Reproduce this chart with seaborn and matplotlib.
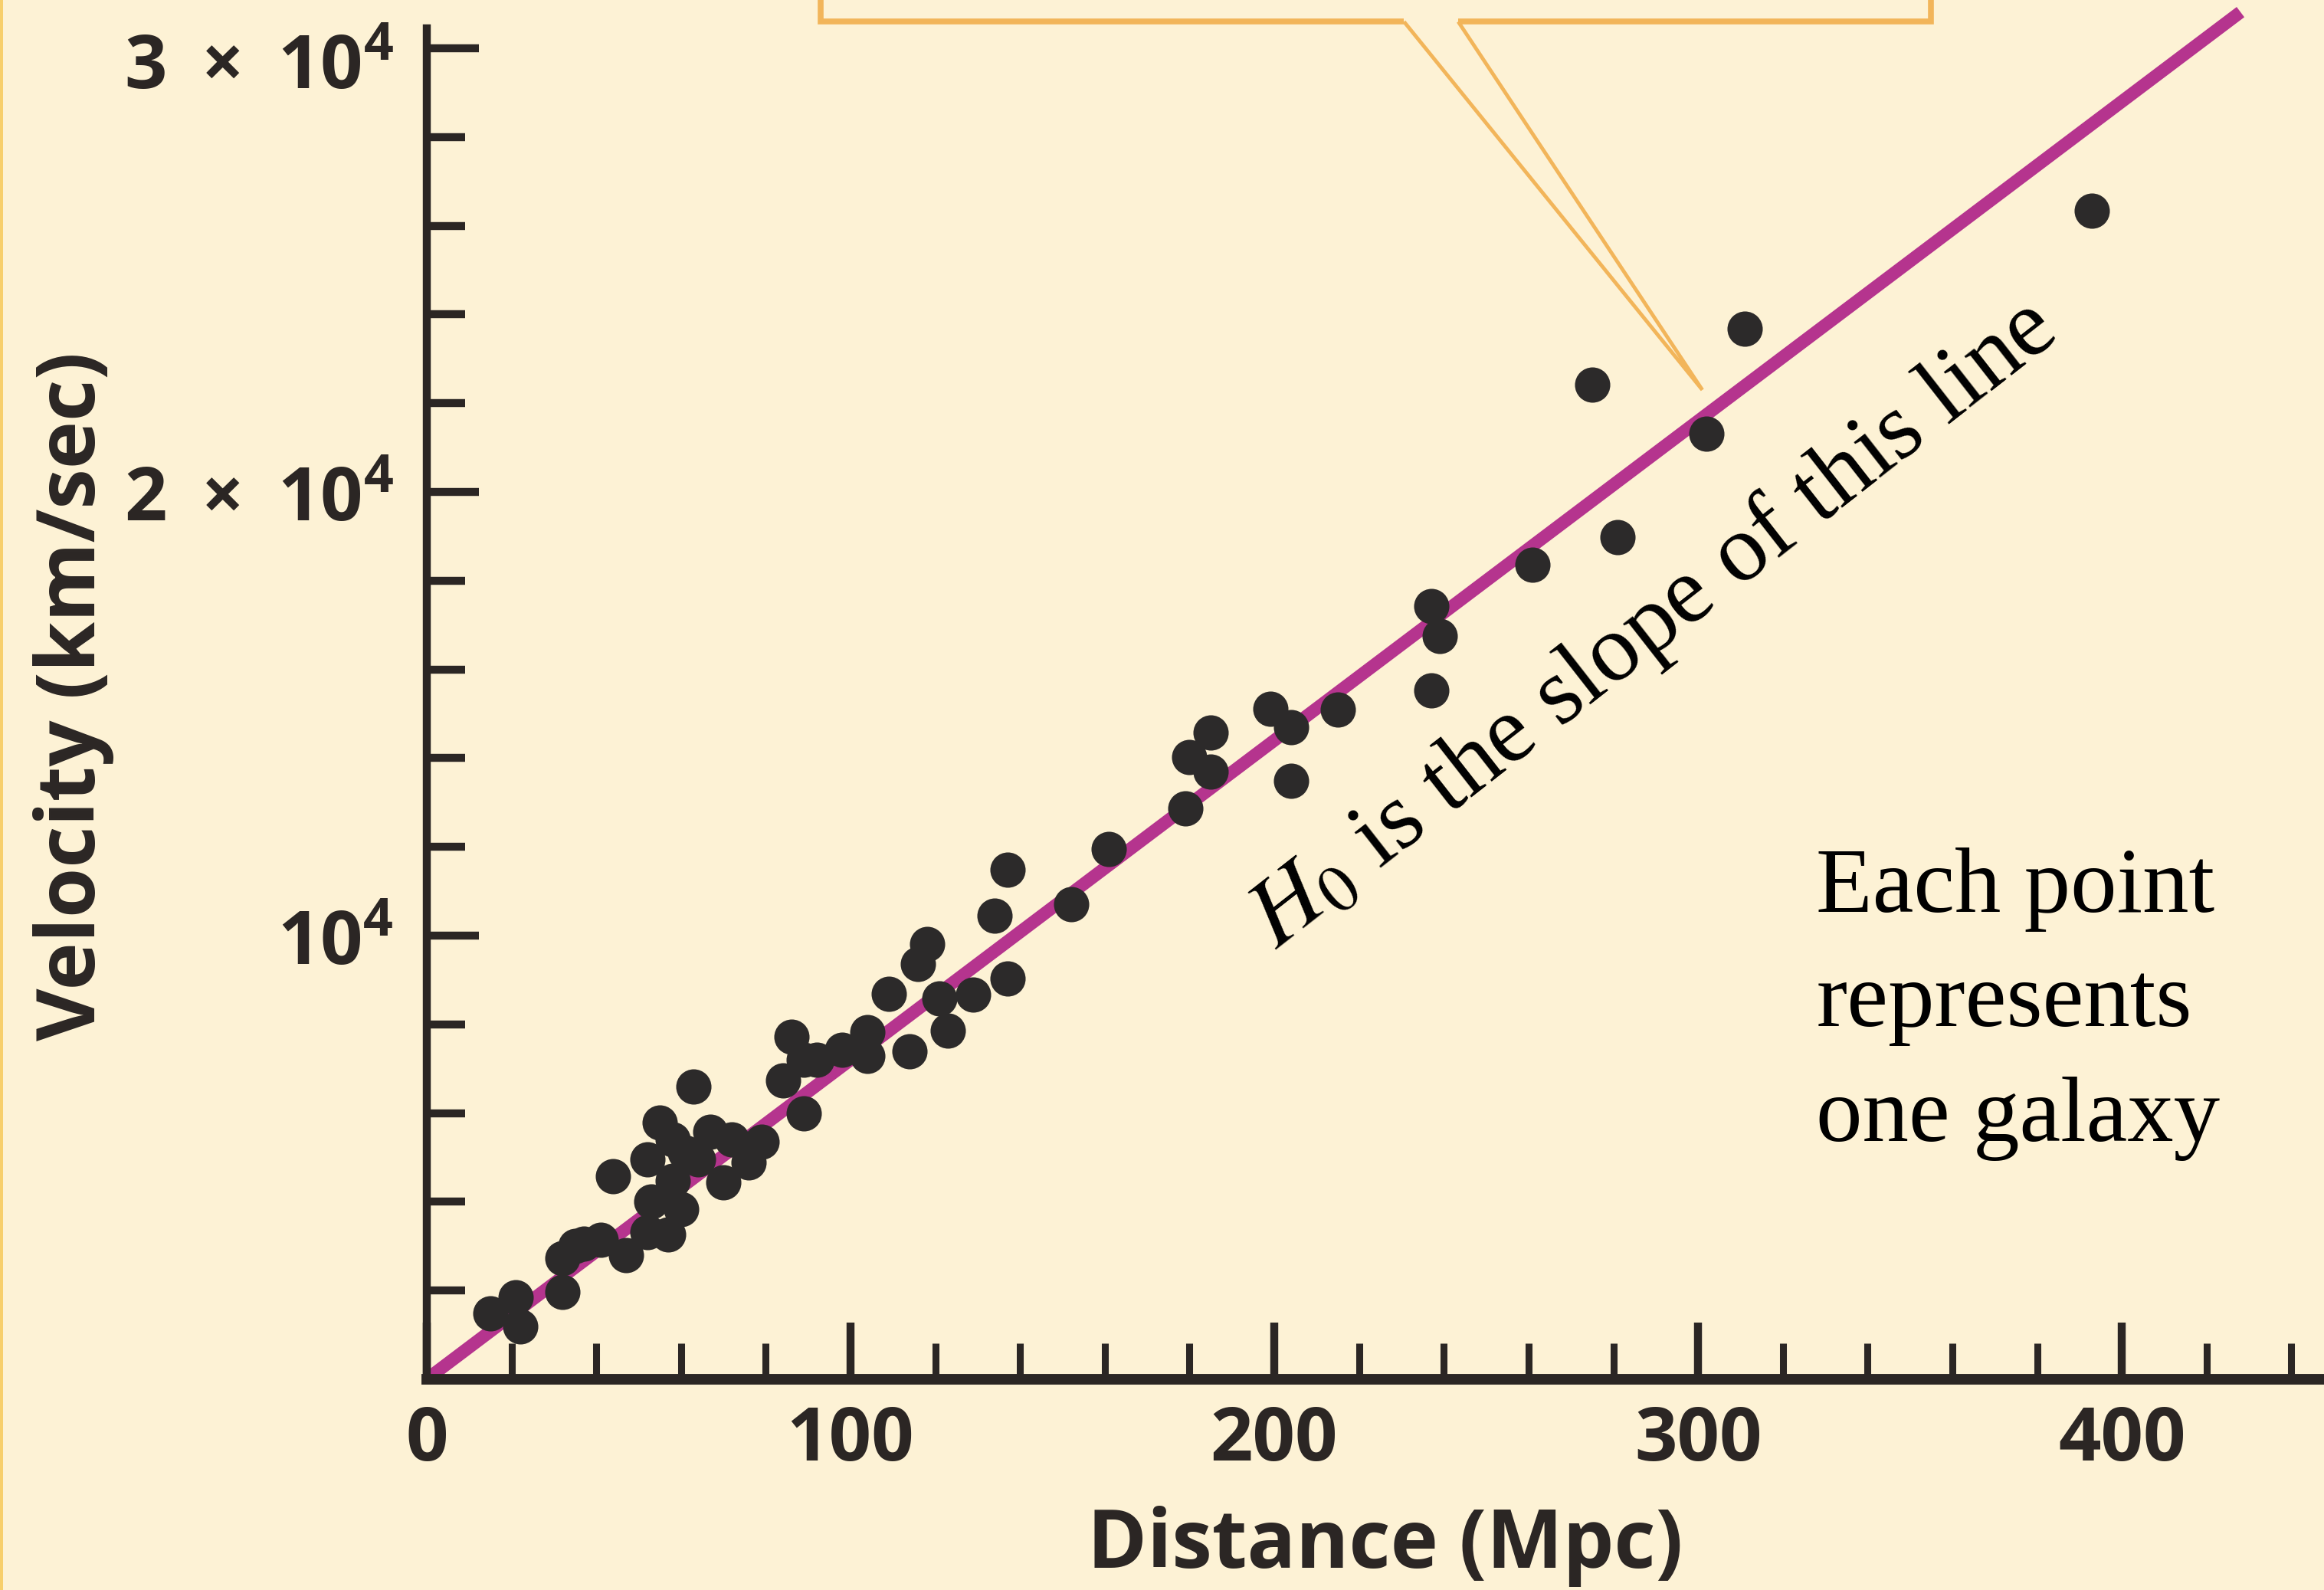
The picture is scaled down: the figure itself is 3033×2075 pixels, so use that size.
import matplotlib
matplotlib.use("Agg")
import matplotlib.pyplot as plt
from matplotlib.patches import Polygon, Rectangle
from matplotlib.ticker import FixedLocator
from matplotlib.transforms import ScaledTranslation
import pandas as pd
import seaborn as sns

# Galaxy distances (Mpc) and recession velocities (km/s)
distance_mpc = [15, 21, 22, 32, 32, 35, 37, 41, 47, 44,
                52, 53, 58, 60, 52, 57, 55, 58, 61, 64,
                67, 72, 79, 76, 70, 63, 84, 86, 89, 89,
                92, 98, 104, 104, 109, 114, 116, 118, 121, 123,
                129, 134, 137, 137, 152, 161, 179, 180, 185, 185,
                199, 204, 204, 215, 237, 239, 237, 261, 281, 275,
                302, 311, 393]
velocity_kms = [1490, 1850, 1190, 1970, 2720, 3010, 3060, 3150, 2800, 4570,
                4950, 4010, 4480, 3840, 3320, 3270, 5780, 5400, 5120, 4950,
                5570, 5400, 5350, 4880, 4430, 6590, 6730, 7720, 7200, 5990,
                7200, 7420, 7820, 7280, 8690, 7390, 9360, 9810, 8580, 7850,
                8670, 10450, 9030, 11490, 10710, 11960, 12870, 14030, 13700, 14570,
                15120, 14690, 13480, 15090, 15520, 16760, 17420, 18360, 18980, 22420,
                21310, 23680, 26330]

# Hubble constant (km/s per Mpc) and the extent of the fitted line
H0 = 72
fit_distance = [0, 428]

# Axis ticks
x_major = [0, 100, 200, 300, 400]
x_minor = [v for v in range(20, 460, 20) if v % 100]
y_major = [10000, 20000, 30000]
y_major_labels = ["10$^{4}$", "2\u2009 × \u200910$^{4}$", "3\u2009 × \u200910$^{4}$"]
y_minor = [v for v in range(2000, 30000, 2000) if v % 10000]

BG = "#FDF2D5"
INK = "#2B2624"
DOT = "#2C2A2A"
LINE = "#B5348E"
CALLOUT = "#F2B55A"

sns.set_style("ticks")
plt.rcParams.update({
    "font.family": ["Open Sans", "DejaVu Sans"],
    "mathtext.fontset": "custom",
    "mathtext.rm": "Open Sans:bold",
    "mathtext.it": "Open Sans:bold",
    "mathtext.bf": "Open Sans:bold",
})

df = pd.DataFrame({"distance": distance_mpc, "velocity": velocity_kms})
fit = pd.DataFrame({"distance": fit_distance,
                    "velocity": [H0 * d for d in fit_distance]})

fig = plt.figure(figsize=(30.33, 20.75), dpi=100, facecolor=BG)
ax = fig.add_axes([0, 0, 1, 1], facecolor=BG)

sns.lineplot(data=fit, x="distance", y="velocity", ax=ax, color=LINE,
             linewidth=12, zorder=2)
for ln in ax.lines:
    ln.set_solid_capstyle("butt")
sns.scatterplot(data=df, x="distance", y="velocity", ax=ax, s=1100,
                color=DOT, linewidth=0, zorder=3, legend=False)

ax.set_xlim(-100.7, 447.7)
ax.set_ylim(-4750, 31088)

# Axis lines crossing at the origin
for side in ("top", "right"):
    ax.spines[side].set_visible(False)
ax.spines["left"].set_position(("data", 0))
ax.spines["bottom"].set_position(("data", 0))
ax.spines["left"].set_bounds(0, 30450)
ax.spines["bottom"].set_bounds(0, 470)
ax.spines["left"].set_linewidth(7.5)
ax.spines["bottom"].set_linewidth(10)
ax.spines["left"].set_color(INK)
ax.spines["bottom"].set_color(INK)

ax.xaxis.set_major_locator(FixedLocator(x_major))
ax.xaxis.set_minor_locator(FixedLocator(x_minor))
ax.yaxis.set_major_locator(FixedLocator(y_major))
ax.yaxis.set_minor_locator(FixedLocator(y_minor))
ax.set_xticklabels([str(v) for v in x_major], fontweight="bold")
ax.set_yticklabels(y_major_labels, fontweight="bold")

ax.tick_params(axis="x", which="major", direction="in", length=53, width=7.5,
               color=INK, labelcolor=INK, labelsize=70, pad=23)
ax.tick_params(axis="x", which="minor", direction="in", length=34, width=6.5,
               color=INK)
ax.tick_params(axis="y", which="major", direction="in", length=49, width=7.5,
               color=INK, labelcolor=INK, labelsize=70, pad=31)
ax.tick_params(axis="y", which="minor", direction="in", length=36, width=7.5,
               color=INK)

# the top label sits a little below its tick
top_label = ax.get_yticklabels()[-1]
top_label.set_transform(top_label.get_transform()
                        + ScaledTranslation(0, -0.15, fig.dpi_scale_trans))

ax.set_xlabel("Distance (Mpc)", fontsize=76, fontweight="bold", color=INK)
ax.set_ylabel("Velocity (km/sec)", fontsize=76, fontweight="bold", color=INK)
ax.xaxis.set_label_coords(0.596, 0.053)
ax.yaxis.set_label_coords(0.049, 0.562)

# Callout box (running off the top) and its pointer ending at the fitted line
box_edges = [[(93, 33000), (93, 30600), (230.6, 30600)],
             [(243.4, 30600), (355, 30600), (355, 33000)]]
for edge in box_edges:
    ax.add_patch(Polygon(edge, closed=False, fill=False, edgecolor=CALLOUT,
                         linewidth=5.5, joinstyle="miter", zorder=1))
ax.add_patch(Polygon([(230.6, 30600), (301, 22300), (243.4, 30600)],
                     closed=False, fill=False, edgecolor=CALLOUT,
                     linewidth=3.5, joinstyle="miter", zorder=1))

ax.text(200.4, 9672,
        r"$\mathit{H}_{\mathit{0}}$ is the slope of this line",
        rotation=38, rotation_mode="anchor", ha="left", va="baseline",
        fontsize=90, fontfamily="Liberation Serif", fontweight="normal",
        math_fontfamily="stix", color="black", zorder=4)

ax.text(327.9, 11990, "Each point\nrepresents\none galaxy",
        ha="left", va="top", fontsize=87, fontfamily="Liberation Serif",
        fontweight="normal", linespacing=1.47, color="black", zorder=4)

# thin yellow edge on the left border
fig.add_artist(Rectangle((0, 0), 4 / 3033, 1, transform=fig.transFigure,
                         facecolor="#F7CF6C", edgecolor="none"))

fig.savefig("out.png", dpi=100, facecolor=BG)
